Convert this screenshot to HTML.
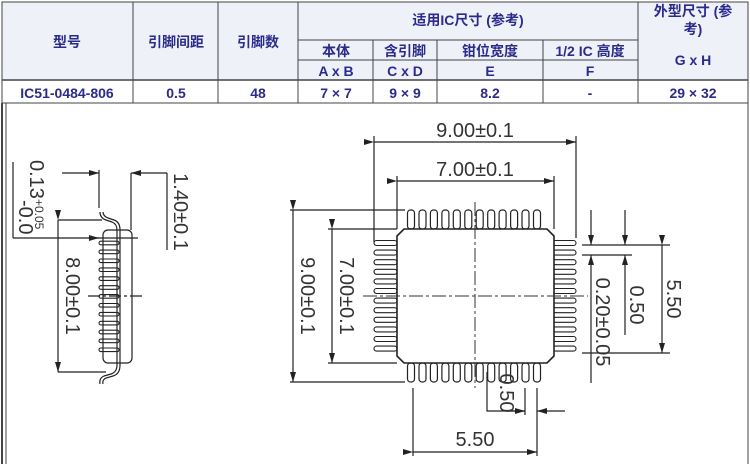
<!DOCTYPE html>
<html><head><meta charset="utf-8"><style>
html,body{margin:0;padding:0;background:#fff;width:750px;height:464px;overflow:hidden}
svg{display:block}
.h{font-family:"Liberation Sans","Noto Sans CJK SC",sans-serif;font-weight:bold;fill:#2b2b8c;font-size:14px;text-anchor:middle}
.d{font-family:"Liberation Sans",sans-serif;fill:#333;font-size:20px}
</style></head><body>
<svg width="750" height="464" viewBox="0 0 750 464" xmlns="http://www.w3.org/2000/svg">
<defs>
<marker id="a" viewBox="0 0 10 6" refX="10" refY="3" markerWidth="10" markerHeight="6" markerUnits="userSpaceOnUse" orient="auto"><path d="M0,0 L10,3 L0,6 z" fill="#222"/></marker>
<rect id="pv" x="-3.5" y="0" width="7" height="19" rx="3" fill="#fff" stroke="#222" stroke-width="1.2"/>
<rect id="ph" x="0" y="-2.5" width="23" height="5" rx="2.5" fill="#fff" stroke="#222" stroke-width="1.1"/>
<rect id="ps" x="99" y="-1.8" width="20" height="3.6" rx="1.8" fill="#fff" stroke="#222" stroke-width="1.1"/>
</defs>
<rect x="2" y="2" width="746" height="78" fill="#eef1f7"/>
<g stroke="#444" stroke-width="1" fill="none">
<rect x="2" y="2" width="746" height="101"/>
<line x1="2" y1="80" x2="748" y2="80" stroke-width="1.5"/>
<line x1="298" y1="40" x2="638" y2="40"/>
<line x1="298" y1="60" x2="638" y2="60"/>
<line x1="133" y1="2" x2="133" y2="103"/>
<line x1="218" y1="2" x2="218" y2="103"/>
<line x1="298" y1="2" x2="298" y2="103"/>
<line x1="373" y1="40" x2="373" y2="103"/>
<line x1="437" y1="40" x2="437" y2="103"/>
<line x1="543" y1="40" x2="543" y2="103"/>
<line x1="638" y1="2" x2="638" y2="103"/>
<line x1="2" y1="103" x2="2" y2="464" stroke-width="2"/>
<line x1="6" y1="103" x2="6" y2="464"/>
<line x1="748" y1="103" x2="748" y2="464"/>
</g>
<text class="h" x="67" y="47">型号</text>
<text class="h" x="176" y="47">引脚间距</text>
<text class="h" x="258" y="47">引脚数</text>
<text class="h" x="468" y="25">适用IC尺寸 (参考)</text>
<text class="h" x="693" y="16">外型尺寸 (参</text>
<text class="h" x="693" y="34">考)</text>
<text class="h" x="693" y="65">G x H</text>
<text class="h" x="336" y="56">本体</text>
<text class="h" x="405" y="56">含引脚</text>
<text class="h" x="490" y="56">钳位宽度</text>
<text class="h" x="590" y="56">1/2 IC 高度</text>
<text class="h" x="336" y="76">A x B</text>
<text class="h" x="405" y="76">C x D</text>
<text class="h" x="490" y="76">E</text>
<text class="h" x="590" y="76">F</text>
<text class="h" x="67" y="98">IC51-0484-806</text>
<text class="h" x="176" y="98">0.5</text>
<text class="h" x="258" y="98">48</text>
<text class="h" x="336" y="98">7 × 7</text>
<text class="h" x="405" y="98">9 × 9</text>
<text class="h" x="490" y="98">8.2</text>
<text class="h" x="590" y="98">-</text>
<text class="h" x="693" y="98">29 × 32</text>

<g>
<use href="#pv" x="411" y="210"/><use href="#pv" x="422.5" y="210"/><use href="#pv" x="433.9" y="210"/><use href="#pv" x="445.4" y="210"/><use href="#pv" x="456.8" y="210"/><use href="#pv" x="468.3" y="210"/><use href="#pv" x="479.7" y="210"/><use href="#pv" x="491.2" y="210"/><use href="#pv" x="502.6" y="210"/><use href="#pv" x="514.1" y="210"/><use href="#pv" x="525.5" y="210"/><use href="#pv" x="537" y="210"/>
<use href="#pv" x="411" y="363"/><use href="#pv" x="422.5" y="363"/><use href="#pv" x="433.9" y="363"/><use href="#pv" x="445.4" y="363"/><use href="#pv" x="456.8" y="363"/><use href="#pv" x="468.3" y="363"/><use href="#pv" x="479.7" y="363"/><use href="#pv" x="491.2" y="363"/><use href="#pv" x="502.6" y="363"/><use href="#pv" x="514.1" y="363"/><use href="#pv" x="525.5" y="363"/><use href="#pv" x="537" y="363"/>
<use href="#ph" x="374" y="243"/><use href="#ph" x="374" y="252.6"/><use href="#ph" x="374" y="262.2"/><use href="#ph" x="374" y="271.8"/><use href="#ph" x="374" y="281.4"/><use href="#ph" x="374" y="291"/><use href="#ph" x="374" y="300.6"/><use href="#ph" x="374" y="310.2"/><use href="#ph" x="374" y="319.8"/><use href="#ph" x="374" y="329.4"/><use href="#ph" x="374" y="339"/><use href="#ph" x="374" y="348.6"/>
<use href="#ph" x="553" y="243"/><use href="#ph" x="553" y="252.6"/><use href="#ph" x="553" y="262.2"/><use href="#ph" x="553" y="271.8"/><use href="#ph" x="553" y="281.4"/><use href="#ph" x="553" y="291"/><use href="#ph" x="553" y="300.6"/><use href="#ph" x="553" y="310.2"/><use href="#ph" x="553" y="319.8"/><use href="#ph" x="553" y="329.4"/><use href="#ph" x="553" y="339"/><use href="#ph" x="553" y="348.6"/>
</g>
<g stroke="#222" stroke-width="1.2" fill="none">
<path d="M404,229 L547,229 L554,236 L554,356 L547,363 L404,363 L397,356 L397,236 Z" stroke-width="1.6" fill="#fff"/>
<line x1="374" y1="142" x2="576" y2="142" marker-start="url(#a)" marker-end="url(#a)"/>
<line x1="374" y1="136" x2="374" y2="242"/><line x1="576" y1="136" x2="576" y2="238"/>
<line x1="397" y1="181" x2="554" y2="181" marker-start="url(#a)" marker-end="url(#a)"/>
<line x1="397" y1="176" x2="397" y2="229"/><line x1="554" y1="176" x2="554" y2="229"/>
<line x1="293" y1="210" x2="293" y2="382" marker-start="url(#a)" marker-end="url(#a)"/>
<line x1="290" y1="210" x2="405" y2="210"/><line x1="290" y1="382" x2="405" y2="382"/>
<line x1="332" y1="229" x2="332" y2="363" marker-start="url(#a)" marker-end="url(#a)"/>
<line x1="328" y1="229" x2="397" y2="229"/><line x1="328" y1="363" x2="397" y2="363"/>
<line x1="662" y1="245" x2="662" y2="353" marker-start="url(#a)" marker-end="url(#a)"/>
<line x1="582" y1="245" x2="670" y2="245"/><line x1="582" y1="353" x2="670" y2="353"/>
<line x1="582" y1="255" x2="632" y2="255"/>
<line x1="625" y1="210" x2="625" y2="245" marker-end="url(#a)"/>
<line x1="625" y1="335" x2="625" y2="255" marker-end="url(#a)"/>
<line x1="591" y1="210" x2="591" y2="245" marker-end="url(#a)"/>
<line x1="591" y1="383" x2="591" y2="255" marker-end="url(#a)"/>
<line x1="413" y1="452" x2="537" y2="452" marker-start="url(#a)" marker-end="url(#a)"/>
<line x1="413" y1="388" x2="413" y2="456"/><line x1="537" y1="388" x2="537" y2="456"/>
<line x1="525" y1="388" x2="525" y2="415"/>
<polyline points="487,372 487,411 525,411"/>
<line x1="505" y1="411" x2="525" y2="411" marker-end="url(#a)"/>
<line x1="565" y1="411" x2="537" y2="411" marker-end="url(#a)"/>
</g>
<g stroke="#333" stroke-width="1" stroke-dasharray="14,3,3,3" fill="none">
<line x1="475" y1="202" x2="475" y2="388"/>
<line x1="363" y1="296" x2="588" y2="296"/>
</g>
<text class="d" x="475" y="137" text-anchor="middle">9.00±0.1</text>
<text class="d" x="475" y="176" text-anchor="middle">7.00±0.1</text>
<text class="d" x="475" y="446" text-anchor="middle">5.50</text>
<text class="d" transform="translate(301,296) rotate(90)" text-anchor="middle">9.00±0.1</text>
<text class="d" transform="translate(340,296) rotate(90)" text-anchor="middle">7.00±0.1</text>
<text class="d" transform="translate(667,299) rotate(90)" text-anchor="middle">5.50</text>
<text class="d" transform="translate(630,305) rotate(90)" text-anchor="middle">0.50</text>
<text class="d" transform="translate(596,322) rotate(90)" text-anchor="middle">0.20±0.05</text>
<text class="d" transform="translate(500,393) rotate(90)" text-anchor="middle">0.50</text>

<g>
<use href="#ps" y="243"/><use href="#ps" y="251.9"/><use href="#ps" y="260.8"/><use href="#ps" y="269.7"/><use href="#ps" y="278.6"/><use href="#ps" y="287.5"/><use href="#ps" y="296.4"/><use href="#ps" y="305.3"/><use href="#ps" y="314.2"/><use href="#ps" y="323.1"/><use href="#ps" y="332"/><use href="#ps" y="340.9"/><use href="#ps" y="349.8"/>
</g>
<g stroke="#222" stroke-width="1.2" fill="none">
<rect x="103" y="230" width="29" height="133" rx="5"/>
<path d="M100,212 Q100,218 106,220 L112,222 Q117,224 117,230 L117,365 Q117,372 111,374 L104,376 Q99,378 100,384"/>
<path d="M103,212 Q103,216 108,218 L114,220 Q120,222 120,230 L120,365 Q120,374 113,376 L106,378 Q102,380 103,384"/>
<line x1="13" y1="162" x2="13" y2="238"/>
<line x1="13" y1="238" x2="99" y2="238" marker-end="url(#a)"/>
<line x1="62" y1="173" x2="99" y2="173" marker-end="url(#a)"/>
<line x1="99" y1="170" x2="99" y2="208"/>
<line x1="167" y1="173" x2="131" y2="173" marker-end="url(#a)"/>
<line x1="167" y1="173" x2="167" y2="250"/>
<line x1="131" y1="173" x2="131" y2="230"/>
<line x1="58" y1="220" x2="58" y2="372" marker-start="url(#a)" marker-end="url(#a)"/>
<line x1="58" y1="220" x2="102" y2="220"/><line x1="58" y1="372" x2="106" y2="372"/>
<line x1="88" y1="296" x2="142" y2="296" stroke-dasharray="12,3,3,3"/>
<line x1="88" y1="238" x2="138" y2="238"/>
</g>
<text class="d" transform="translate(30,160) rotate(90)" font-size="18">0.13<tspan font-size="12" dy="-5">+0.05</tspan></text>
<text class="d" transform="translate(19,200) rotate(90)" font-size="12">-0.0</text>
<text class="d" transform="translate(174,212) rotate(90)" text-anchor="middle">1.40±0.1</text>
<text class="d" transform="translate(66,296) rotate(90)" text-anchor="middle">8.00±0.1</text>
</svg>
</body></html>
